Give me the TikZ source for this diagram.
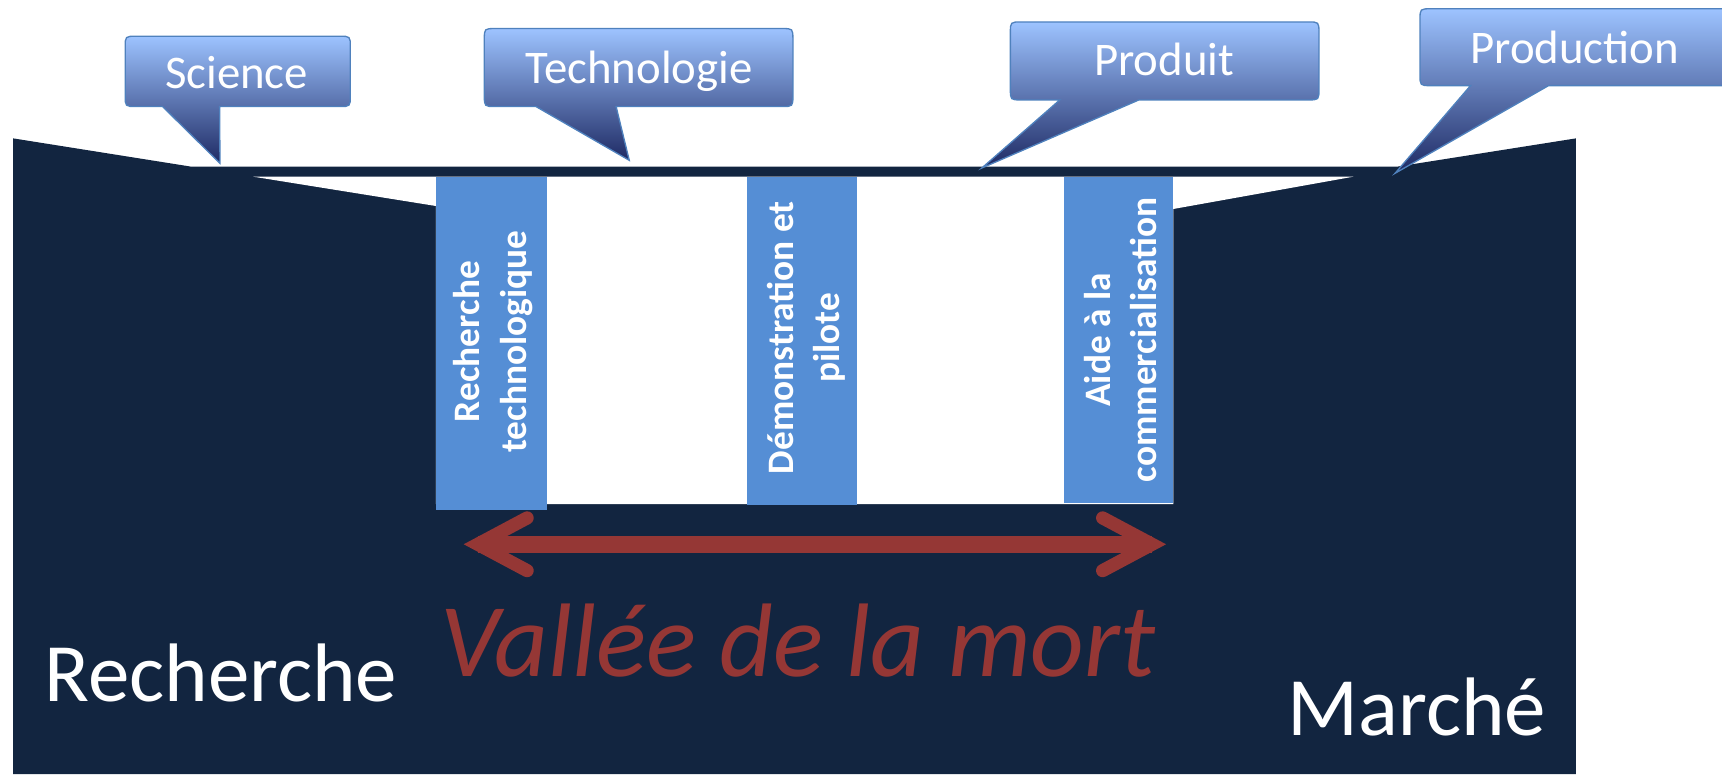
\documentclass[tikz,border=0pt]{standalone}
\usepackage{fontspec}
\setmainfont{Carlito}
\definecolor{navy}{RGB}{18,37,64}
\definecolor{colblue}{RGB}{85,142,213}
\definecolor{vred}{RGB}{149,55,53}
\definecolor{calborder}{RGB}{79,129,189}
\definecolor{caltop}{RGB}{157,195,255}
\definecolor{calmid}{RGB}{116,145,206}
\definecolor{calbot}{RGB}{30,42,100}
\begin{document}
\begin{tikzpicture}[x=0.5pt,y=-0.5pt,
  callout/.style={draw=calborder,line width=0.6pt,line join=miter,
    top color=caltop,middle color=calmid,bottom color=calbot},
  caltext/.style={text=white,anchor=base,inner sep=0pt,font=\fontsize{21.3}{25}\selectfont},
  bigtext/.style={text=white,anchor=base,inner sep=0pt,font=\fontsize{37.8}{44}\selectfont},
  vtext/.style={text=vred,anchor=base,inner sep=0pt,font=\itshape\fontsize{47.6}{56}\selectfont},
  coltext/.style={text=white,rotate=90,align=center,inner sep=0pt,
    font=\bfseries\fontsize{17}{21}\selectfont},
  colbox/.style={fill=colblue},
  vshaft/.style={draw=vred,line width=7.5pt},
  vbarb/.style={draw=vred,line width=6pt,line cap=round,line join=miter}]
\useasboundingbox (0,0) rectangle (1568,705);
\clip (0,0) rectangle (1568,705);
% dark ground
\fill[navy] (12,126) -- (174.4,151.8) -- (1271.8,151.8) -- (1435,126)
  -- (1435,705) -- (12,705) -- cycle;
% white valley
\fill[white] (230.7,160.9) -- (1232.3,160.9) -- (1068.4,190.3) -- (1068.4,459)
  -- (397,459) -- (397,187.6) -- cycle;
% columns
\fill[colbox] (397,160.9) rectangle (497.8,464.5);
\fill[colbox] (680,160.9) rectangle (780,460);
\fill[colbox] (968.5,160.9) rectangle (1068.5,457.7);
\node[coltext] (c1) at (449,311) {Recherche\\technologique};
\node[coltext] (c2) at (734,307.5) {Démonstration et\\pilote};
\node[coltext] (c3) at (1020,309.5) {Aide à la\\commercialisation};
% callouts
\path[callout] (124,33) -- (309,33) .. controls (319,33) .. (319,43) -- (319,87)
  .. controls (319,97) .. (309,97) -- (200,97) -- (200.3,148.7) -- (148,97) -- (124,97)
  .. controls (114,97) .. (114,87) -- (114,43) .. controls (114,33) .. (124,33) -- cycle;
\path[callout] (451,26) -- (712,26) .. controls (722,26) .. (722,36) -- (722,87)
  .. controls (722,97) .. (712,97) -- (561,97) -- (573,146) -- (488,97) -- (451,97)
  .. controls (441,97) .. (441,87) -- (441,36) .. controls (441,26) .. (451,26) -- cycle;
\path[callout] (930,20) -- (1191,20) .. controls (1201,20) .. (1201,30) -- (1201,81)
  .. controls (1201,91) .. (1191,91) -- (1037,91) -- (894,153) -- (965,91) -- (930,91)
  .. controls (920,91) .. (920,81) -- (920,30) .. controls (920,20) .. (930,20) -- cycle;
\path[callout] (1303,8) -- (1580,8) .. controls (1590,8) .. (1590,18) -- (1590,68)
  .. controls (1590,78) .. (1580,78) -- (1410,78) -- (1270.3,157.8) -- (1339,78) -- (1303,78)
  .. controls (1293,78) .. (1293,68) -- (1293,18) .. controls (1293,8) .. (1303,8) -- cycle;
\node[caltext] (tsci) at (215.4,80.4) {Science};
\node[caltext] (ttec) at (582,75.9) {Technologie};
\node[caltext] (tpro) at (1060,69.2) {Produit};
\node[caltext] (tprn) at (1433.8,57.7) {Production};
% valley arrow
\coordinate (vl) at (435,495.6);
\coordinate (vr) at (1049,495.6);
\draw[vshaft] (vl) -- (vr);
\draw[vbarb] ([shift={(45,-24)}]vl) -- (vl) -- ([shift={(45,24)}]vl);
\draw[vbarb] ([shift={(-45,-24)}]vr) -- (vr) -- ([shift={(-45,24)}]vr);
% labels
\node[bigtext] (rech) at (201,639) {Recherche};
\node[bigtext] (marche) at (1290,669.3) {Marché};
\node[vtext] (vallee) at (726.5,616.2) {Vallée de la mort};
\end{tikzpicture}
\end{document}
